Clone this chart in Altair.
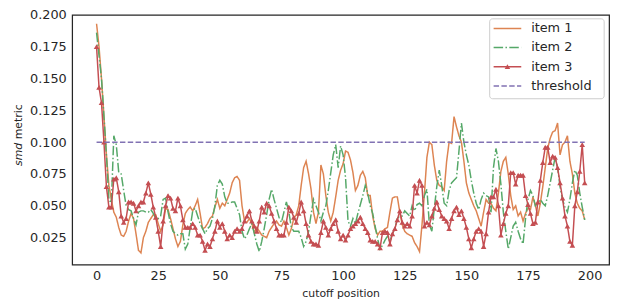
import altair as alt
import pandas as pd

# ---------------- data ----------------
item1 = [
    0.193, 0.175, 0.150, 0.120, 0.090, 0.066, 0.055, 0.045, 0.041, 0.033,
    0.027, 0.026, 0.030, 0.038, 0.044, 0.040, 0.028, 0.015, 0.013, 0.025,
    0.030, 0.037, 0.040, 0.043, 0.043, 0.036, 0.030, 0.035, 0.048, 0.047,
    0.040, 0.032, 0.024, 0.018, 0.022, 0.035, 0.044, 0.047, 0.049, 0.046,
    0.050, 0.055, 0.044, 0.032, 0.033, 0.036, 0.040, 0.042, 0.049, 0.055,
    0.048, 0.052, 0.050, 0.055, 0.060, 0.068, 0.072, 0.073, 0.070, 0.050,
    0.038, 0.037, 0.040, 0.036, 0.029, 0.033, 0.030, 0.027, 0.026, 0.025,
    0.030, 0.033, 0.036, 0.038, 0.035, 0.034, 0.038, 0.033, 0.027, 0.032,
    0.040, 0.043, 0.050, 0.066, 0.080, 0.085, 0.075, 0.063, 0.045, 0.036,
    0.045, 0.082, 0.075, 0.058, 0.045, 0.038, 0.045, 0.057, 0.070, 0.078,
    0.083, 0.093, 0.092, 0.086, 0.076, 0.062, 0.066, 0.074, 0.077, 0.072,
    0.058, 0.058, 0.042, 0.032, 0.027, 0.030, 0.030, 0.032, 0.033, 0.045,
    0.056, 0.057, 0.057, 0.045, 0.035, 0.030, 0.028, 0.027, 0.026, 0.021,
    0.018, 0.014, 0.035, 0.060, 0.088, 0.100, 0.098, 0.082, 0.070, 0.066,
    0.065, 0.062, 0.085, 0.100, 0.099, 0.120, 0.112, 0.105, 0.100, 0.085,
    0.068, 0.060, 0.055, 0.050, 0.046, 0.040, 0.034, 0.045, 0.055, 0.052,
    0.052, 0.048, 0.046, 0.060, 0.077, 0.085, 0.088, 0.075, 0.058, 0.047,
    0.050, 0.042, 0.045, 0.038, 0.044, 0.048, 0.047, 0.057, 0.050, 0.042,
    0.052, 0.065, 0.080, 0.095, 0.103, 0.108, 0.109, 0.115, 0.090, 0.098,
    0.100, 0.105, 0.085, 0.075, 0.060, 0.052, 0.048, 0.046, 0.039,
]

item2 = [
    0.186, 0.168, 0.150, 0.120, 0.090, 0.055, 0.052, 0.105, 0.098, 0.076,
    0.075, 0.062, 0.050, 0.047, 0.046, 0.040, 0.035, 0.045, 0.046, 0.046,
    0.045, 0.045, 0.047, 0.044, 0.040, 0.040, 0.042, 0.055, 0.056, 0.045,
    0.036, 0.030, 0.028, 0.027, 0.028, 0.028, 0.016, 0.020, 0.033, 0.046,
    0.048, 0.042, 0.036, 0.032, 0.028, 0.032, 0.034, 0.040, 0.050, 0.066,
    0.070, 0.067, 0.057, 0.052, 0.052, 0.053, 0.053, 0.048, 0.043, 0.030,
    0.024, 0.027, 0.032, 0.036, 0.028, 0.020, 0.014, 0.022, 0.032, 0.043,
    0.055, 0.063, 0.055, 0.048, 0.041, 0.037, 0.045, 0.053, 0.045, 0.033,
    0.030, 0.030, 0.030, 0.025, 0.018, 0.022, 0.030, 0.043, 0.055, 0.050,
    0.045, 0.038, 0.045, 0.050, 0.062, 0.076, 0.090, 0.098, 0.080, 0.097,
    0.090, 0.072, 0.038, 0.034, 0.040, 0.036, 0.044, 0.051, 0.058, 0.066,
    0.060, 0.050, 0.044, 0.034, 0.024, 0.016, 0.019, 0.023, 0.026, 0.022,
    0.028, 0.032, 0.040, 0.042, 0.042, 0.046, 0.044, 0.042, 0.050, 0.046,
    0.051, 0.052, 0.050, 0.058, 0.063, 0.035, 0.030, 0.048, 0.065, 0.078,
    0.066, 0.052, 0.050, 0.062, 0.068, 0.070, 0.072, 0.093, 0.115, 0.100,
    0.090, 0.082, 0.070, 0.060, 0.052, 0.047, 0.055, 0.060, 0.058, 0.057,
    0.045, 0.080, 0.095, 0.085, 0.067, 0.045, 0.030, 0.016, 0.025, 0.034,
    0.037, 0.030, 0.024, 0.020, 0.040, 0.055, 0.062, 0.058, 0.050, 0.052,
    0.055, 0.052, 0.050, 0.058, 0.068, 0.078, 0.088, 0.080, 0.065, 0.055,
    0.049, 0.045, 0.055, 0.068, 0.078, 0.074, 0.060, 0.049, 0.039,
]

item3 = [
    0.175, 0.143, 0.131, 0.100, 0.065, 0.049, 0.049, 0.071, 0.072, 0.061,
    0.042, 0.037, 0.040, 0.053, 0.053, 0.052, 0.046, 0.050, 0.053, 0.053,
    0.060, 0.068, 0.059, 0.049, 0.041, 0.030, 0.018, 0.038, 0.050, 0.058,
    0.056, 0.048, 0.046, 0.056, 0.050, 0.039, 0.033, 0.033, 0.033, 0.036,
    0.033, 0.027, 0.027, 0.022, 0.015, 0.020, 0.018, 0.024, 0.030, 0.038,
    0.033, 0.036, 0.030, 0.024, 0.027, 0.025, 0.030, 0.032, 0.030, 0.032,
    0.038, 0.042, 0.046, 0.038, 0.034, 0.030, 0.038, 0.049, 0.045, 0.052,
    0.050, 0.044, 0.038, 0.032, 0.027, 0.027, 0.027, 0.037, 0.049, 0.046,
    0.041, 0.037, 0.044, 0.053, 0.046, 0.036, 0.027, 0.022, 0.020, 0.020,
    0.019, 0.029, 0.038, 0.033, 0.027, 0.032, 0.036, 0.039, 0.030, 0.024,
    0.027, 0.023, 0.027, 0.032, 0.034, 0.036, 0.038, 0.041, 0.036, 0.032,
    0.029, 0.023, 0.022, 0.022, 0.020, 0.017, 0.029, 0.030, 0.029, 0.020,
    0.028, 0.032, 0.039, 0.046, 0.037, 0.034, 0.036, 0.034, 0.042, 0.066,
    0.060, 0.070, 0.066, 0.034, 0.037, 0.035, 0.042, 0.048, 0.053, 0.047,
    0.042, 0.040, 0.038, 0.032, 0.040, 0.046, 0.049, 0.043, 0.046, 0.040,
    0.033, 0.024, 0.017, 0.024, 0.030, 0.032, 0.030, 0.018, 0.028, 0.045,
    0.057, 0.057, 0.063, 0.050, 0.027, 0.036, 0.044, 0.050, 0.076, 0.076,
    0.067, 0.074, 0.074, 0.074, 0.058, 0.051, 0.044, 0.036, 0.037, 0.053,
    0.070, 0.084, 0.096, 0.096, 0.084, 0.089, 0.088, 0.080, 0.068, 0.056,
    0.042, 0.034, 0.022, 0.019, 0.050, 0.061, 0.077, 0.098, 0.068,
]

threshold_value = 0.1
series_names = ["item 1", "item 2", "item 3", "threshold"]
x_ticks = [0, 25, 50, 75, 100, 125, 150, 175, 200]
y_ticks = [0.025, 0.050, 0.075, 0.100, 0.125, 0.150, 0.175, 0.200]
x_title = "cutoff position"
y_title_italic = "smd"
y_title_rest = "metric"

# ---------------- styling ----------------
COLORS = {"item 1": "#DD8452", "item 2": "#55A868", "item 3": "#C44E52", "threshold": "#8172B3"}
DASHES = {"item 1": [1, 0], "item 2": [9.6, 2.4, 1.5, 2.4], "item 3": [1, 0], "threshold": [5.5, 2.4]}
FONT = "DejaVu Sans"
INK = "#262626"
TOP = 5
W, H = 544, 253

n = len(item1)
df = pd.DataFrame({
    "pos": list(range(n)),
    "item1": item1,
    "item2": item2,
    "item3": item3,
    "threshold": [threshold_value] * n,
})

xscale = alt.Scale(domain=[-9.9, 207.9], nice=False, zero=False)
yscale = alt.Scale(domain=[0.0038, 0.2], nice=False, zero=False)

x_axis = alt.Axis(values=x_ticks, title=x_title, grid=False, domain=False, ticks=False,
                  labelFontSize=13, labelFont=FONT, labelColor=INK, labelPadding=5,
                  labelFlush=False, labelOverlap=False,
                  titleFontSize=11, titleFont=FONT, titleFontWeight="normal",
                  titleColor=INK, titlePadding=5)
y_axis = alt.Axis(values=y_ticks, format=".3f", title=None, grid=False, domain=False,
                  ticks=False, labelFontSize=13, labelFont=FONT, labelColor=INK,
                  labelPadding=6, labelFlush=False, labelOverlap=False)

base = alt.Chart(df)
X = alt.X("pos:Q", scale=xscale, axis=x_axis)


def Y(field):
    return alt.Y(f"{field}:Q", scale=yscale, axis=y_axis)


def line_layer(field, name):
    return base.mark_line(color=COLORS[name], strokeWidth=1.5,
                          strokeDash=DASHES[name]).encode(x=X, y=Y(field))


l1 = line_layer("item1", "item 1")
l2 = line_layer("item2", "item 2")
l3 = line_layer("item3", "item 3")
l3p = base.mark_point(shape="triangle-up", filled=True, size=32, opacity=1,
                      color=COLORS["item 3"]).encode(x=X, y=Y("item3"))
thr = line_layer("threshold", "threshold")

# y-axis title (italic "smd" + regular "metric")
one = pd.DataFrame({"k": [0]})
ytitle1 = alt.Chart(one).mark_text(text=y_title_italic, angle=270, align="left",
                                   baseline="middle", fontStyle="italic", fontSize=11,
                                   font=FONT, color=INK).encode(
    x=alt.value(-54), y=alt.value(153))
ytitle2 = alt.Chart(one).mark_text(text=y_title_rest, angle=270, align="left",
                                   baseline="middle", fontSize=11, font=FONT,
                                   color=INK).encode(
    x=alt.value(-54), y=alt.value(126))

# legend (positions relative to the plot area's top-left corner)
LX0, LX1, LY0, LY1 = 423, 539, 4, 85
rows_y = [13.7, 33, 52.5, 72]
legend_box = alt.Chart(one).mark_rect(fill="white", fillOpacity=0.85, stroke="#cccccc",
                                      strokeWidth=1, cornerRadius=3).encode(
    x=alt.value(LX0), x2=alt.value(LX1), y=alt.value(LY0), y2=alt.value(LY1))
legend_layers = [legend_box]
for name, yy in zip(series_names, rows_y):
    legend_layers.append(
        alt.Chart(one).mark_rule(color=COLORS[name], strokeWidth=1.5,
                                 strokeDash=DASHES[name]).encode(
            x=alt.value(427), x2=alt.value(455), y=alt.value(yy)))
    legend_layers.append(
        alt.Chart(one).mark_text(text=name, align="left", baseline="middle",
                                 fontSize=13, font=FONT, color=INK).encode(
            x=alt.value(465), y=alt.value(yy)))
legend_layers.append(
    alt.Chart(one).mark_point(shape="triangle-up", filled=True, size=32, opacity=1,
                              color=COLORS["item 3"]).encode(
        x=alt.value(441), y=alt.value(rows_y[2])))

chart = alt.layer(l1, l2, l3, l3p, thr, ytitle1, ytitle2, *legend_layers).properties(
    width=W, height=H,
    autosize=alt.AutoSizeParams(type="none"),
    padding={"left": 65, "top": TOP, "right": 8, "bottom": 40},
    background="white",
).configure_view(stroke=INK, strokeWidth=1.25)

chart.save("out.html", embed_options={"renderer": "svg", "actions": False})
